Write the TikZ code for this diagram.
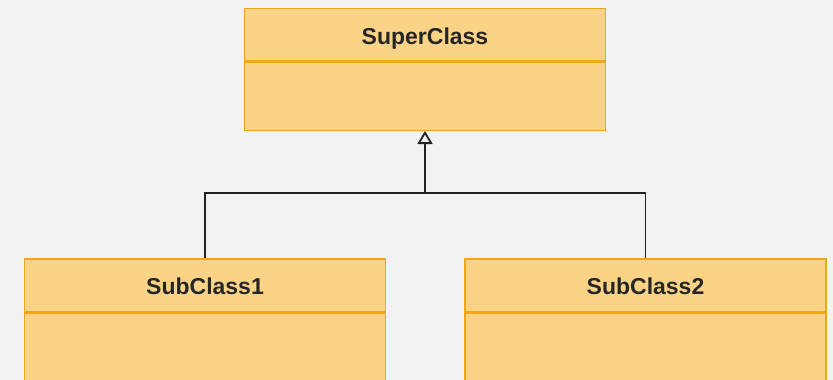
\documentclass[tikz,border=0pt]{standalone}
\usepackage{fontspec}
\setmainfont{Liberation Sans}
\usetikzlibrary{arrows.meta}
\definecolor{bg}{RGB}{242,242,242}
\definecolor{clsfill}{RGB}{250,211,135}
\definecolor{clsdraw}{RGB}{242,166,22}
\definecolor{connc}{RGB}{34,34,34}
\definecolor{txt}{RGB}{38,38,38}
\begin{document}
\begin{tikzpicture}[x=1pt,y=-1pt,
  header/.style={draw=clsdraw,fill=clsfill,line width=1.5pt,minimum width=361pt,minimum height=52.5pt,inner sep=0pt,text height=21pt,text depth=2pt,anchor=north,font=\fontsize{23}{27}\selectfont\bfseries,text=txt},
  body/.style={draw=clsdraw,fill=clsfill,line width=1.5pt,minimum width=361pt,inner sep=0pt,anchor=north},
  connector/.style={draw=connc,line width=1.8pt},
  inherit/.style={-{Triangle[open,length=13pt,width=15pt]}}]
\fill[bg] (0,0) rectangle (833,380);
\useasboundingbox (0,0) rectangle (833,380);
\node[header] (suph) at (425,7.5) {SuperClass};
\node[body,minimum height=68pt] (supb) at (suph.south) {};
\node[header] (s1h) at (205,258) {SubClass1};
\node[body,minimum height=68.5pt] (s1b) at (s1h.south) {};
\node[header] (s2h) at (645.5,258) {SubClass2};
\node[body,minimum height=68.5pt] (s2b) at (s2h.south) {};
\coordinate (j) at (425,193);
\draw[connector] (s1h.north) |- (j) -| (s2h.north);
\draw[connector,inherit] (j) -- (supb.south);
\end{tikzpicture}
\end{document}
